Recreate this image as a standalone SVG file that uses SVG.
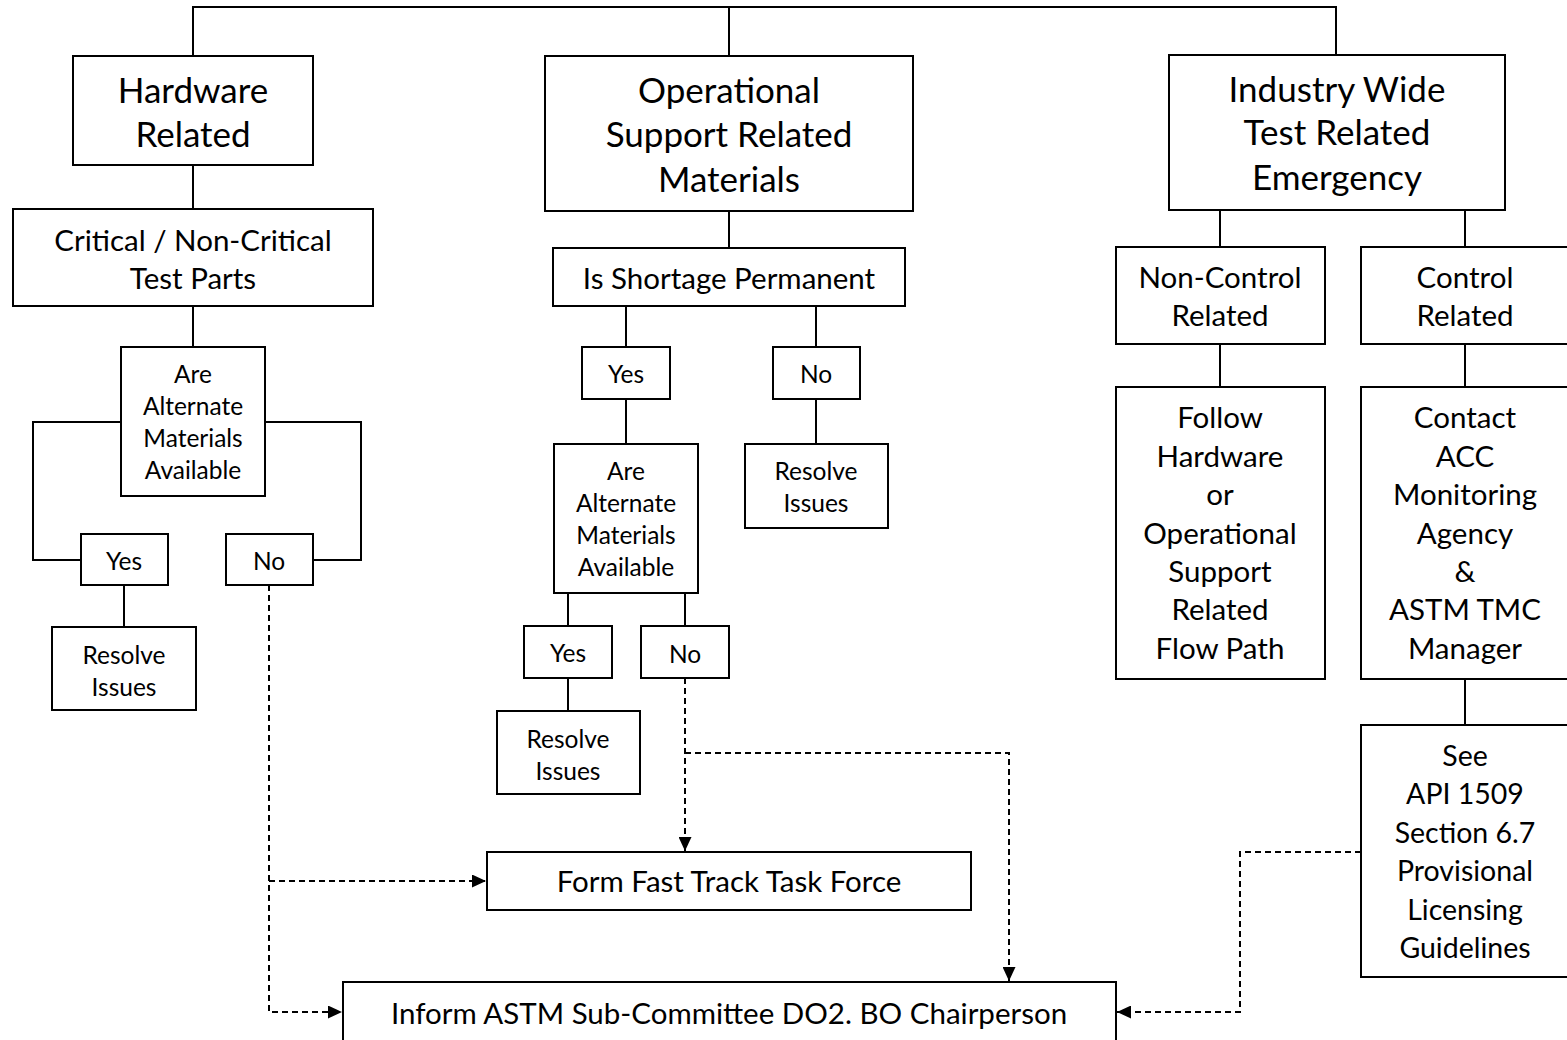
<svg xmlns="http://www.w3.org/2000/svg" width="1567" height="1040" viewBox="0 0 1567 1040">
<style>
rect{fill:#fff;stroke:#000;stroke-width:2}
text{font-family:Lato,"Liberation Sans",sans-serif;fill:#000;text-anchor:middle;dominant-baseline:central}
.l{font-size:35px}.m{font-size:29.5px}.s{font-size:24.5px}.c{font-size:28.5px}
.sol{fill:none;stroke:#000;stroke-width:2}
.dash{fill:none;stroke:#000;stroke-width:2;stroke-dasharray:6 4}
</style>
<defs><marker id="ah" viewBox="0 0 10 10" refX="10" refY="5" markerWidth="7" markerHeight="6.5" markerUnits="strokeWidth" orient="auto" preserveAspectRatio="none"><path d="M0,0L10,5L0,10z" fill="#000"/></marker></defs>
<rect x="0" y="0" width="1567" height="1040" style="stroke:none"/>
<g id="connectors">
<path class="sol" d="M193,56V7H1336V55M729,7V56"/>
<path class="sol" d="M193,165V209M193,306V347"/>
<path class="sol" d="M121,422H33V560H81M265,422H361V560H313"/>
<path class="sol" d="M124,585V627"/>
<path class="sol" d="M729,211V248M626,306V347M816,306V347M626,399V444M816,399V444M568,593V626M685,593V626M568,678V711"/>
<path class="sol" d="M1220,210V247M1465,210V247M1220,344V387M1465,344V387M1465,679V725"/>
<path class="dash" d="M269,585V1012H342" marker-end="url(#ah)"/>
<path class="dash" d="M269,881H486" marker-end="url(#ah)"/>
<path class="dash" d="M685,678V851" marker-end="url(#ah)"/>
<path class="dash" d="M685,753H1009V981" marker-end="url(#ah)"/>
<path class="dash" d="M1361,852H1240V1012H1117" marker-end="url(#ah)"/>
</g>
<g id="hardware"><rect x="73" y="56" width="240" height="109"/><text class="l" x="193" y="89">Hardware</text><text class="l" x="193" y="133">Related</text></g>
<g id="critical"><rect x="13" y="209" width="360" height="97"/><text class="m" x="193" y="239">Critical / Non-Critical</text><text class="m" x="193" y="277">Test Parts</text></g>
<g id="alt1"><rect x="121" y="347" width="144" height="149"/><text class="s" x="193" y="373">Are</text><text class="s" x="193" y="405">Alternate</text><text class="s" x="193" y="437">Materials</text><text class="s" x="193" y="469">Available</text></g>
<g id="yes1"><rect x="81" y="534" width="87" height="51"/><text class="s" x="124" y="560">Yes</text></g>
<g id="no1"><rect x="226" y="534" width="87" height="51"/><text class="s" x="269" y="560">No</text></g>
<g id="resolve1"><rect x="52" y="627" width="144" height="83"/><text class="s" x="124" y="654">Resolve</text><text class="s" x="124" y="686">Issues</text></g>
<g id="operational"><rect x="545" y="56" width="368" height="155"/><text class="l" x="729" y="89">Operational</text><text class="l" x="729" y="133">Support Related</text><text class="l" x="729" y="178">Materials</text></g>
<g id="shortage"><rect x="553" y="248" width="352" height="58"/><text class="m" x="729" y="277">Is Shortage Permanent</text></g>
<g id="yes2"><rect x="582" y="347" width="88" height="52"/><text class="s" x="626" y="373">Yes</text></g>
<g id="no2"><rect x="773" y="347" width="87" height="52"/><text class="s" x="816" y="373">No</text></g>
<g id="alt2"><rect x="554" y="444" width="144" height="149"/><text class="s" x="626" y="470">Are</text><text class="s" x="626" y="502">Alternate</text><text class="s" x="626" y="534">Materials</text><text class="s" x="626" y="566">Available</text></g>
<g id="resolve2"><rect x="745" y="444" width="143" height="84"/><text class="s" x="816" y="470">Resolve</text><text class="s" x="816" y="502">Issues</text></g>
<g id="yes3"><rect x="524" y="626" width="88" height="52"/><text class="s" x="568" y="652">Yes</text></g>
<g id="no3"><rect x="641" y="626" width="88" height="52"/><text class="s" x="685" y="653">No</text></g>
<g id="resolve3"><rect x="497" y="711" width="143" height="83"/><text class="s" x="568" y="738">Resolve</text><text class="s" x="568" y="770">Issues</text></g>
<g id="fasttrack"><rect x="487" y="852" width="484" height="58"/><text class="m" x="729" y="880">Form Fast Track Task Force</text></g>
<g id="inform"><rect x="343" y="982" width="773" height="70"/><text class="m" x="729" y="1012">Inform ASTM Sub-Committee DO2. BO Chairperson</text></g>
<g id="industry"><rect x="1169" y="55" width="336" height="155"/><text class="l" x="1337" y="88">Industry Wide</text><text class="l" x="1337" y="131">Test Related</text><text class="l" x="1337" y="176">Emergency</text></g>
<g id="noncontrol"><rect x="1116" y="247" width="209" height="97"/><text class="m" x="1220" y="276">Non-Control</text><text class="m" x="1220" y="314">Related</text></g>
<g id="control"><rect x="1361" y="247" width="210" height="97"/><text class="m" x="1465" y="276">Control</text><text class="m" x="1465" y="314">Related</text></g>
<g id="follow"><rect x="1116" y="387" width="209" height="292"/><text class="m" x="1220" y="416">Follow</text><text class="m" x="1220" y="455">Hardware</text><text class="m" x="1220" y="493">or</text><text class="m" x="1220" y="532">Operational</text><text class="m" x="1220" y="570">Support</text><text class="m" x="1220" y="608">Related</text><text class="m" x="1220" y="647">Flow Path</text></g>
<g id="contact"><rect x="1361" y="387" width="210" height="292"/><text class="m" x="1465" y="416">Contact</text><text class="m" x="1465" y="455">ACC</text><text class="m" x="1465" y="493">Monitoring</text><text class="m" x="1465" y="532">Agency</text><text class="m" x="1465" y="570">&amp;</text><text class="m" x="1465" y="608">ASTM TMC</text><text class="m" x="1465" y="647">Manager</text></g>
<g id="see"><rect x="1361" y="725" width="210" height="252"/><text class="c" x="1465" y="755">See</text><text class="c" x="1465" y="793">API 1509</text><text class="c" x="1465" y="832">Section 6.7</text><text class="c" x="1465" y="870">Provisional</text><text class="c" x="1465" y="909">Licensing</text><text class="c" x="1465" y="947">Guidelines</text></g>
</svg>
